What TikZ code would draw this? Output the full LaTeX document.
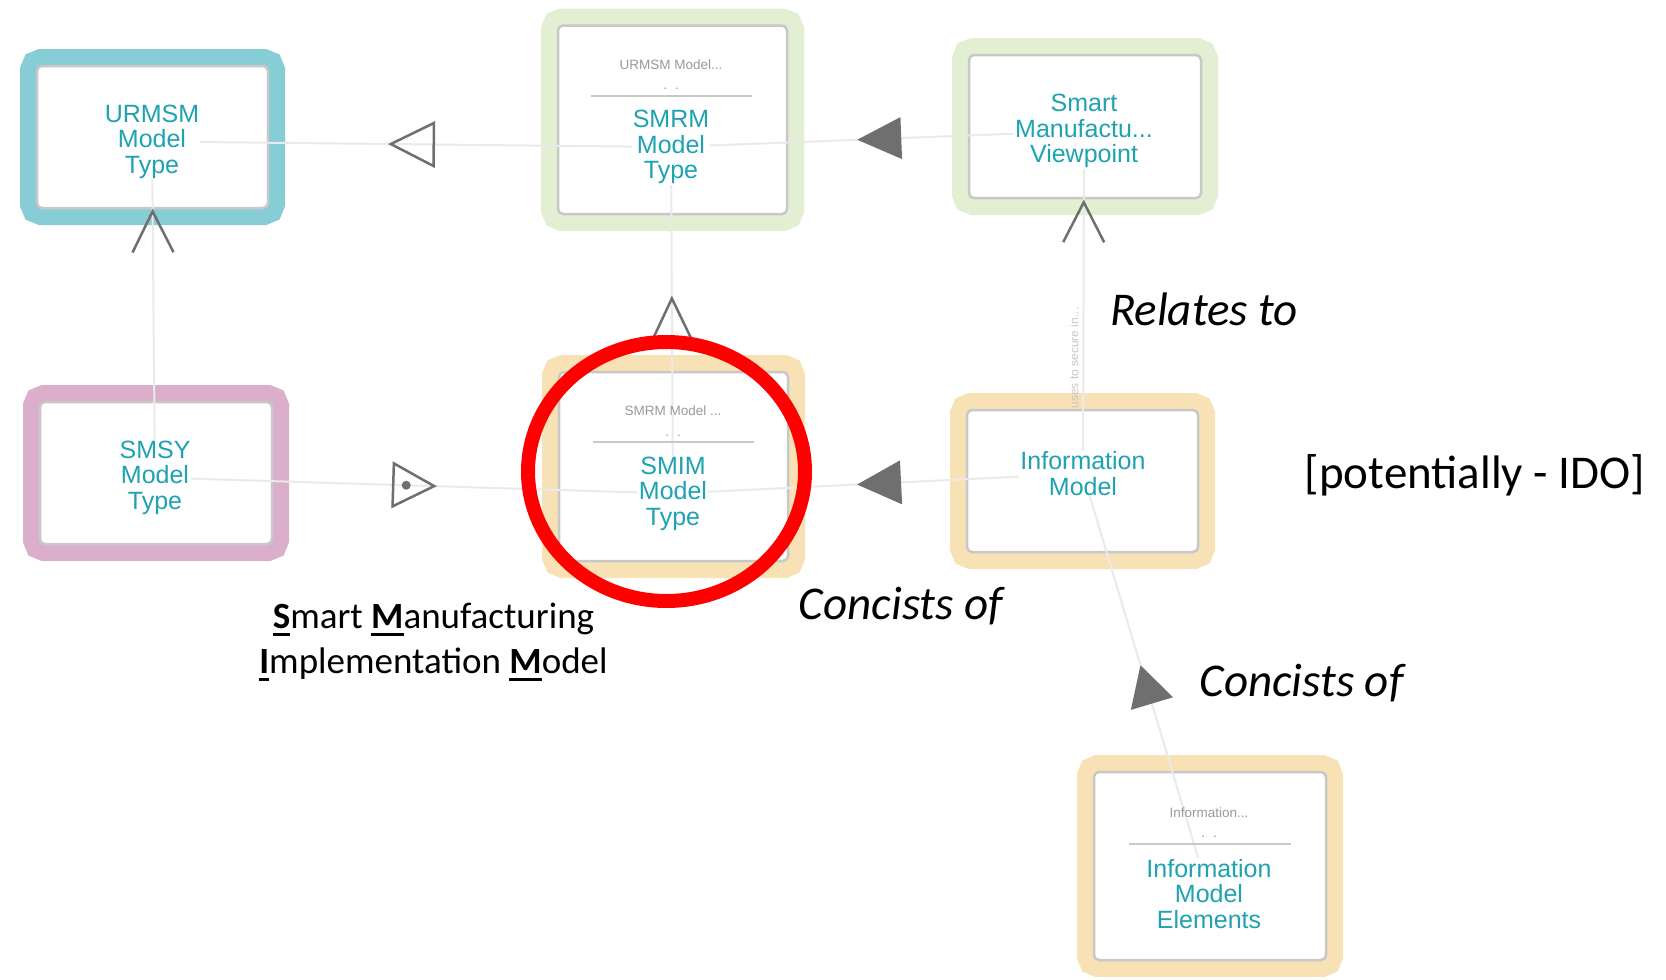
\documentclass[tikz,border=0pt]{standalone}
\usepackage{fontspec}
\setmainfont{Carlito}
\newfontfamily\boxfont{Liberation Sans}
\usetikzlibrary{decorations.markings}
\pgfdeclarelayer{bg}
\pgfdeclarelayer{frames}
\pgfdeclarelayer{lines}
\pgfsetlayers{bg,frames,lines,main}
\definecolor{frTeal}{HTML}{87CDD6}
\definecolor{frGreen}{HTML}{E2EFD2}
\definecolor{frPink}{HTML}{DBAECB}
\definecolor{frOrange}{HTML}{F8E1B4}
\definecolor{boxgray}{HTML}{C8C8C8}
\definecolor{boxteal}{HTML}{1FA2B2}
\definecolor{headgray}{HTML}{9A9A9A}
\definecolor{linegray}{HTML}{EAEAEA}
\definecolor{arrowgray}{HTML}{6F6F6F}
\definecolor{usesgray}{HTML}{C8C8C8}
\newcommand\bul[1]{\setbox0\hbox{\bfseries #1}\rlap{\rule[-8pt]{\wd0}{3.5pt}}\box0}
\tikzset{
  mbox/.style={draw=boxgray, line width=2.5pt, fill=white, rounded corners=5pt, inner sep=0pt,
    preaction={draw=#1, line width=34pt}},
  mtext/.style={font=\boxfont\fontsize{25}{25.5}\selectfont, text=boxteal, align=center, fill=white, inner sep=1pt},
  htext/.style={font=\boxfont\fontsize{13.5}{15}\selectfont, text=headgray, inner sep=0pt},
  sepline/.style={draw=boxgray, line width=2pt},
  conn/.style={draw=linegray, line width=2pt},
  arrowline/.style={draw=arrowgray, line width=2.5pt, line join=miter},
  annot/.style={font=\fontsize{47}{56}\selectfont, text=black, inner sep=0pt},
  otri/.style n args={3}{postaction={decorate, decoration={markings, mark=at position #1 with {\draw[arrowline] (0,0) -- (-#2,0.5*#3) -- (-#2,-0.5*#3) -- cycle;}}}},
  ftri/.style n args={3}{postaction={decorate, decoration={markings, mark=at position #1 with {\fill[arrowgray] (0,0) -- (-#2,0.5*#3) -- (-#2,-0.5*#3) -- cycle;}}}},
  vee/.style n args={3}{postaction={decorate, decoration={markings, mark=at position #1 with {\draw[arrowline] (-#2,0.5*#3) -- (0,0) -- (-#2,-0.5*#3);}}}},
  dtri/.style n args={3}{postaction={decorate, decoration={markings, mark=at position #1 with {\draw[arrowline] (0,0) -- (-#2,0.5*#3) -- (-#2,-0.5*#3) -- cycle; \fill[arrowgray] (-28,0) circle[radius=4.5pt];}}}}
}
\begin{document}
\begin{tikzpicture}[x=1pt,y=-1pt]
\useasboundingbox (0,0) rectangle (1666,980);
\begin{pgfonlayer}{bg}
\fill[white] (0,0) rectangle (1666,980);
\end{pgfonlayer}
% boxes
\begin{pgfonlayer}{frames}
\node[mbox=frTeal, minimum width=231pt, minimum height=142pt] (urmsm) at (152.5,137) {};
\node[mbox=frGreen, minimum width=229pt, minimum height=188.5pt] (smrm) at (672.5,119.75) {};
\node[mbox=frGreen, minimum width=232pt, minimum height=143pt] (view) at (1085,126.5) {};
\node[mbox=frPink, minimum width=232pt, minimum height=142pt] (smsy) at (156,473) {};
\node[mbox=frOrange, minimum width=229pt, minimum height=189pt] (smim) at (673.5,466.5) {};
\node[mbox=frOrange, minimum width=231pt, minimum height=142pt] (info) at (1082.5,481) {};
\node[mbox=frOrange, minimum width=232pt, minimum height=188pt] (elem) at (1210,866) {};
\end{pgfonlayer}
% box texts
\node[mtext] (urmsmT) at (152,141.5) {URMSM\\Model\\Type};
\node[mtext] (smrmT) at (671,147) {SMRM\\Model\\Type};
\node[mtext] (viewT) at (1084,131) {Smart\\Manufactu...\\Viewpoint};
\node[mtext] (smsyT) at (155,477.5) {SMSY\\Model\\Type};
\node[mtext] (smimT) at (673,493.5) {SMIM\\Model\\Type};
\node[mtext] (infoT) at (1083,473.5) {Information\\Model};
\node[mtext] (elemT) at (1209,894) {Information\\Model\\Elements};
% headers
\node[htext] (smrmH) at (671,65) {URMSM Model...};
\node[htext, anchor=base] (smrmD) at (671,89) {.\hspace{8pt}.};
\draw[sepline] (591,96) -- (752,96);
\node[htext] (smimH) at (673,411) {SMRM Model ...};
\node[htext, anchor=base] (smimD) at (673,436) {.\hspace{8pt}.};
\draw[sepline] (593,442) -- (754,442);
\node[htext] (elemH) at (1209,813) {Information...};
\node[htext, anchor=base] (elemD) at (1209,837) {.\hspace{8pt}.};
\draw[sepline] (1129,844) -- (1291,844);
\node[rotate=90, font=\boxfont\fontsize{12}{14}\selectfont, text=usesgray, inner sep=0pt] (usesT) at (1074,358) {uses to secure in...};
% connectors
\begin{pgfonlayer}{lines}
\draw[conn, otri={0.54}{43}{43}] (smrmT.center) -- (urmsmT.center);
\draw[conn, vee={0.792}{41}{41}] (smsyT.center) -- (urmsmT.center);
\draw[conn, ftri={0.549}{44}{42}] (viewT.center) -- (smrmT.center);
\draw[conn, otri={0.563}{40}{38}] (smimT.center) -- (smrmT.center);
\draw[conn, dtri={0.539}{41}{43}] (smsyT.center) -- (smimT.center);
\draw[conn, ftri={0.551}{44}{44}] (infoT.center) -- (smimT.center);
\draw[conn, vee={0.792}{40}{41}] (infoT.center) -- (viewT.center);
\draw[conn, ftri={0.544}{40}{44}] (elemT.center) -- (infoT.center);
\end{pgfonlayer}
% highlight
\draw[red, line width=14pt] (666.5,471.5) ellipse [x radius=138.5pt, y radius=129.5pt];
% annotations
\node[annot, font=\itshape\fontsize{47}{56}\selectfont] (relT) at (1204,309) {Relates to};
\node[annot] (idoT) at (1475,475) {[potentially - IDO]};
\node[annot, font=\itshape\fontsize{47}{56}\selectfont] (cons1) at (901,606.5) {Concists of};
\node[annot, font=\itshape\fontsize{47}{56}\selectfont] (cons2) at (1301.5,683) {Concists of};
\node[annot, font=\fontsize{37}{45}\selectfont, align=center] (smimLbl) at (433.5,642) {\bul{S}mart \bul{M}anufacturing\\\bul{I}mplementation \bul{M}odel};
\end{tikzpicture}
\end{document}
